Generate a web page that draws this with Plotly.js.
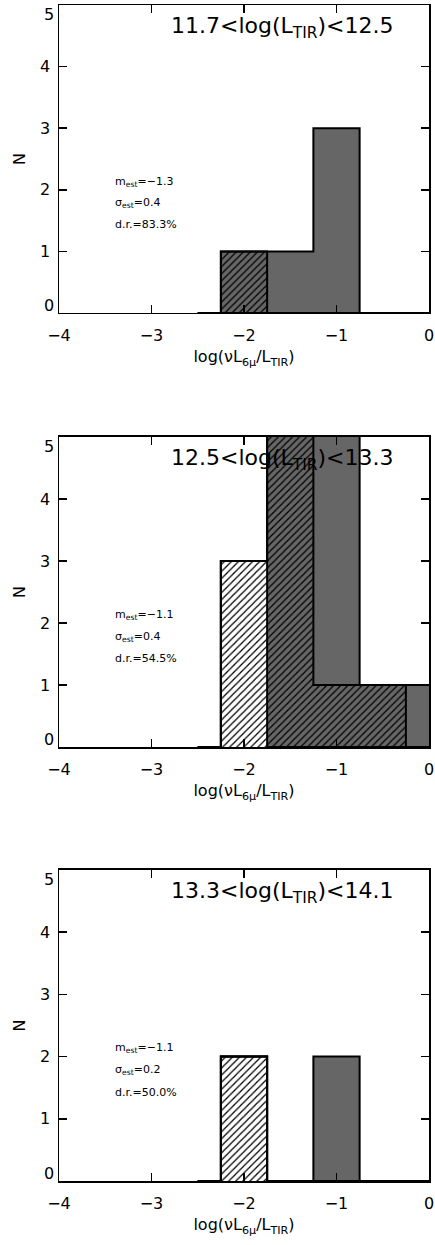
<!DOCTYPE html>
<html>
<head>
<meta charset="utf-8">
<script src="https://cdn.plot.ly/plotly-3.0.1.min.js"></script>
<style>html,body{margin:0;padding:0;background:#fff;}#chart{width:435px;height:1245px;}</style>
</head>
<body>
<div id="chart"></div>
<script>
// Bin centres of log(nu L_6mu / L_TIR)
const binCenters = [-2.5, -2.0, -1.5, -1.0, -0.5, 0.0];

// Panel 1: 11.7 < log(L_TIR) < 12.5
const p1Open  = [0, 0, 0, 0, 0, 0];   // white, hatched
const p1Hatch = [0, 1, 0, 0, 0, 0];   // grey, hatched
const p1Fill  = [0, 0, 1, 3, 0, 0];   // grey, solid
// Panel 2: 12.5 < log(L_TIR) < 13.3
const p2Open  = [0, 3, 0, 0, 0, 0];
const p2Hatch = [0, 0, 6, 1, 1, 0];
const p2Fill  = [0, 0, 0, 5, 0, 1];
// Panel 3: 13.3 < log(L_TIR) < 14.1
const p3Open  = [0, 2, 0, 0, 0, 0];
const p3Hatch = [0, 0, 0, 0, 0, 0];
const p3Fill  = [0, 0, 0, 2, 0, 0];

const panelTitles = ["11.7&lt;log(L<sub>TIR</sub>)&lt;12.5",
                     "12.5&lt;log(L<sub>TIR</sub>)&lt;13.3",
                     "13.3&lt;log(L<sub>TIR</sub>)&lt;14.1"];
const meanVals  = ["−1.3", "−1.1", "−1.1"];
const sigmaVals = ["0.4", "0.4", "0.2"];
const detRates  = ["83.3%", "54.5%", "50.0%"];

const xTickVals = [-4, -3, -2, -1, 0];
const yTickVals = [0, 1, 2, 3, 4, 5];
const yTickText = ['', '1', '2', '3', '4', ''];   // end labels are placed inside the frame like IDL
const yEndLabels = [{v: 0, t: '0', anchor: 'bottom', shift: -4},
                    {v: 5, t: '5', anchor: 'top', shift: 2}];

const panels = [
  {open: p1Open, hatch: p1Hatch, fill: p1Fill},
  {open: p2Open, hatch: p2Hatch, fill: p2Fill},
  {open: p3Open, hatch: p3Hatch, fill: p3Fill}
];

const GREY = '#666666';
const FONT = 'DejaVu Sans, Liberation Sans, sans-serif';
const traces = [];
const annotations = [];
const layout = {
  width: 435, height: 1245,
  margin: {l: 59, r: 6, t: 5, b: 64},
  paper_bgcolor: '#fff', plot_bgcolor: '#fff',
  barmode: 'stack', bargap: 0,
  showlegend: false,
  font: {family: FONT, color: '#000', size: 16}
};
const domains = [[0.7381, 1.0], [0.3690, 0.6327], [0.0, 0.2645]];

panels.forEach((p, i) => {
  const xa = i === 0 ? 'x' : 'x' + (i + 1);
  const ya = i === 0 ? 'y' : 'y' + (i + 1);
  const common = {type: 'bar', x: binCenters, width: 0.5, xaxis: xa, yaxis: ya,
                  hoverinfo: 'skip'};
  traces.push(Object.assign({}, common, {y: p.open,
    marker: {color: '#fff', line: {width: 0},
             pattern: {shape: '/', fgcolor: '#000', bgcolor: '#fff', size: 5, solidity: 0.25}}}));
  traces.push(Object.assign({}, common, {y: p.hatch,
    marker: {color: GREY, line: {width: 0},
             pattern: {shape: '/', fgcolor: '#000', bgcolor: GREY, size: 5, solidity: 0.25}}}));
  traces.push(Object.assign({}, common, {y: p.fill,
    marker: {color: GREY, line: {width: 0}}}));

  // step outlines of cumulative layers
  const c1 = p.open.slice();
  const c2 = p.open.map((v, k) => v + p.hatch[k]);
  const c3 = c2.map((v, k) => v + p.fill[k]);
  [c1, c2, c3].forEach(c => {
    traces.push({type: 'scatter', mode: 'lines', x: binCenters, y: c,
      xaxis: xa, yaxis: ya, hoverinfo: 'skip',
      line: {shape: 'hvh', color: '#000', width: 2}});
  });

  const xKey = i === 0 ? 'xaxis' : 'xaxis' + (i + 1);
  const yKey = i === 0 ? 'yaxis' : 'yaxis' + (i + 1);
  layout[xKey] = {
    anchor: ya, range: [-4, 0], tickvals: xTickVals,
    ticks: 'inside', ticklen: 8, tickwidth: 1.5, tickcolor: '#000',
    showline: true, linewidth: 1.5, linecolor: '#000', mirror: 'ticks',
    showgrid: false, zeroline: false, ticklabelstandoff: 7,
    ticklabeloverflow: 'allow',
    tickfont: {family: FONT, size: 16, color: '#000'},
    title: {text: 'log(νL<sub>6μ</sub>/L<sub>TIR</sub>)', standoff: 7,
            font: {family: FONT, size: 16, color: '#000'}}
  };
  layout[yKey] = {
    anchor: xa, domain: domains[i], range: [0, 5],
    tickmode: 'array', tickvals: yTickVals, ticktext: yTickText,
    ticks: 'inside', ticklen: 8, tickwidth: 1.5, tickcolor: '#000',
    showline: true, linewidth: 1.5, linecolor: '#000', mirror: 'ticks',
    showgrid: false, zeroline: false, ticklabelstandoff: 4,
    tickfont: {family: FONT, size: 16, color: '#000'},
    title: {text: 'N', standoff: 10, font: {family: FONT, size: 16, color: '#000'}}
  };

  yEndLabels.forEach(e => {
    annotations.push({xref: xa, yref: ya, x: -4, y: e.v, text: e.t,
      showarrow: false, xanchor: 'right', yanchor: e.anchor, xshift: -3, yshift: e.shift,
      font: {family: FONT, size: 16, color: '#000'}});
  });

  annotations.push({xref: xa, yref: ya, x: -1.59, y: 4.64, text: panelTitles[i],
    showarrow: false, xanchor: 'center', yanchor: 'middle',
    font: {family: FONT, size: 22, color: '#000'}});
  const statLines = ['m<sub>est</sub>=' + meanVals[i],
                     'σ<sub>est</sub>=' + sigmaVals[i],
                     'd.r.=' + detRates[i]];
  const statY = [2.13, 1.78, 1.43];
  statLines.forEach((t, k) => {
    annotations.push({xref: xa, yref: ya, x: -3.42, y: statY[k], text: t,
      showarrow: false, xanchor: 'left', yanchor: 'middle',
      font: {family: FONT, size: 11, color: '#000'}});
  });
});
layout.annotations = annotations;

Plotly.newPlot('chart', traces, layout, {staticPlot: true, displayModeBar: false});
</script>
</body>
</html>
